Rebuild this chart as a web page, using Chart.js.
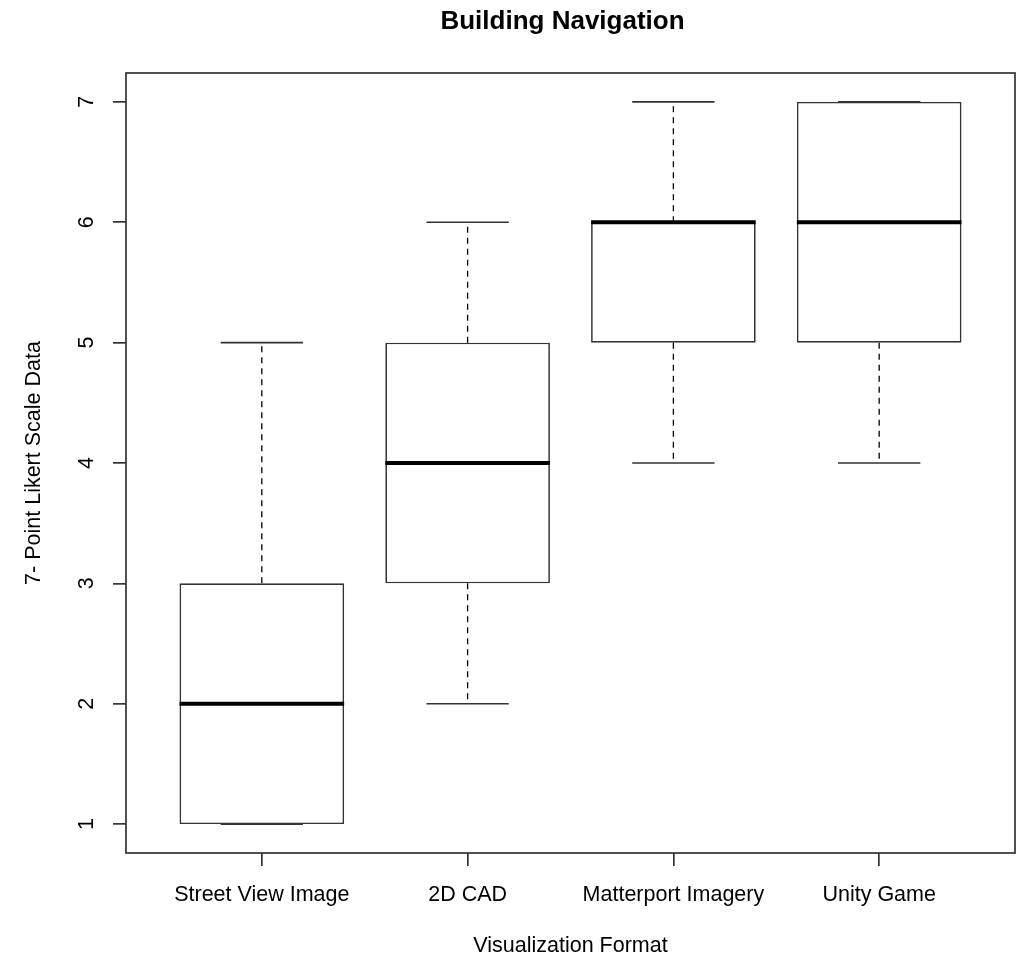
<!DOCTYPE html>
<html>
<head>
<meta charset="utf-8">
<script src="https://cdn.jsdelivr.net/npm/chart.js@4.4.0/dist/chart.umd.min.js"></script>
<style>
html,body{margin:0;padding:0;background:#fff;}
#wrap{width:1021px;height:957px;}
</style>
</head>
<body>
<div id="wrap"><canvas id="c" width="1021" height="957"></canvas></div>
<script>
const categories = ["Street View Image", "2D CAD", "Matterport Imagery", "Unity Game"];
const whiskerLow = [1, 2, 4, 4];
const boxQ1      = [1, 3, 5, 5];
const medians    = [2, 4, 6, 6];
const boxQ3      = [3, 5, 6, 7];
const whiskerHigh= [5, 6, 7, 7];
const yTicks = [1, 2, 3, 4, 5, 6, 7];
const xPositions = [1, 2, 3, 4];

const FONT = "'Liberation Sans', Arial, sans-serif";

const boxPlugin = {
  id: 'boxExtras',
  afterLayout(chart) {
    if (chart.titleBlock) { chart.titleBlock.left -= 8; chart.titleBlock.right -= 8; }
  },
  afterDatasetsDraw(chart) {
    const {ctx, chartArea, scales: {x, y}} = chart;
    const meta = chart.getDatasetMeta(0);
    ctx.save();
    meta.data.forEach((bar, i) => {
      const cx = x.getPixelForValue(xPositions[i]);
      const half = bar.width / 2;
      const capHalf = half / 2;
      const yLo = y.getPixelForValue(whiskerLow[i]);
      const yQ1 = y.getPixelForValue(boxQ1[i]);
      const yQ3 = y.getPixelForValue(boxQ3[i]);
      const yHi = y.getPixelForValue(whiskerHigh[i]);
      const yMed = y.getPixelForValue(medians[i]);
      ctx.strokeStyle = '#000';
      ctx.lineWidth = 1.3;
      ctx.setLineDash([6, 5]);
      ctx.beginPath();
      if (whiskerHigh[i] > boxQ3[i]) { ctx.moveTo(cx, yQ3); ctx.lineTo(cx, yHi); }
      if (whiskerLow[i] < boxQ1[i]) { ctx.moveTo(cx, yQ1); ctx.lineTo(cx, yLo); }
      ctx.stroke();
      ctx.setLineDash([]);
      ctx.lineWidth = 1.7;
      ctx.strokeStyle = '#333';
      ctx.beginPath();
      ctx.moveTo(cx - capHalf, yHi); ctx.lineTo(cx + capHalf, yHi);
      ctx.moveTo(cx - capHalf, yLo); ctx.lineTo(cx + capHalf, yLo);
      ctx.stroke();
      ctx.strokeStyle = '#000';
      ctx.lineWidth = 4;
      ctx.beginPath();
      ctx.moveTo(cx - half, yMed); ctx.lineTo(cx + half, yMed);
      ctx.stroke();
    });
    ctx.strokeStyle = '#333';
    ctx.lineWidth = 1.7;
    ctx.strokeRect(chartArea.left, chartArea.top, chartArea.right - chartArea.left, chartArea.bottom - chartArea.top);
    ctx.restore();
  }
};

new Chart(document.getElementById('c'), {
  type: 'bar',
  data: {
    datasets: [{
      data: xPositions.map((xv, i) => ({x: xv, y: [boxQ1[i], boxQ3[i]]})),
      backgroundColor: '#fff',
      borderColor: '#333',
      borderWidth: 1.7,
      borderSkipped: false,
      barPercentage: 0.8,
      categoryPercentage: 1.0
    }]
  },
  options: {
    responsive: false,
    animation: false,
    devicePixelRatio: 1,
    layout: {padding: {left: 0, right: 6, top: 0, bottom: 0}},
    plugins: {
      legend: {display: false},
      tooltip: {enabled: false},
      title: {
        display: true,
        text: 'Building Navigation',
        fullSize: false,
        color: '#000',
        font: {family: FONT, size: 26, weight: 'bold', lineHeight: 1.2},
        padding: {top: 6.4, bottom: 35.4}
      }
    },
    scales: {
      x: {
        type: 'linear',
        offset: false,
        min: 0.34,
        max: 4.66,
        afterBuildTicks: (s) => { s.ticks = xPositions.map(v => ({value: v})); },
        afterFit: (s) => { s.height = 104; },
        grid: {offset: false, drawOnChartArea: false, drawTicks: true, tickLength: 13, color: '#333', lineWidth: 1.7},
        border: {display: false},
        ticks: {
          color: '#000',
          font: {family: FONT, size: 21.5, lineHeight: 1.2},
          padding: 16,
          maxRotation: 0,
          minRotation: 0,
          autoSkip: false,
          callback: (v) => categories[xPositions.indexOf(v)] ?? ''
        },
        title: {
          display: true,
          text: 'Visualization Format',
          color: '#000',
          font: {family: FONT, size: 21.5, lineHeight: 1.2},
          padding: {top: 0, bottom: -2}
        }
      },
      y: {
        type: 'linear',
        min: 0.76,
        max: 7.24,
        afterBuildTicks: (s) => { s.ticks = yTicks.map(v => ({value: v})); },
        afterFit: (s) => { s.width = 126; },
        grid: {drawOnChartArea: false, drawTicks: true, tickLength: 13, color: '#333', lineWidth: 1.7},
        border: {display: false},
        ticks: {
          color: '#000',
          font: {family: FONT, size: 21.5, lineHeight: 1.2},
          padding: 20,
          minRotation: 90,
          maxRotation: 90,
          crossAlign: 'center',
          autoSkip: false,
          callback: (v) => String(v)
        },
        title: {
          display: true,
          text: '7- Point Likert Scale Data',
          color: '#000',
          font: {family: FONT, size: 21.5, lineHeight: 1.2},
          padding: {top: 21, bottom: 0}
        }
      }
    }
  },
  plugins: [boxPlugin]
});
</script>
</body>
</html>
